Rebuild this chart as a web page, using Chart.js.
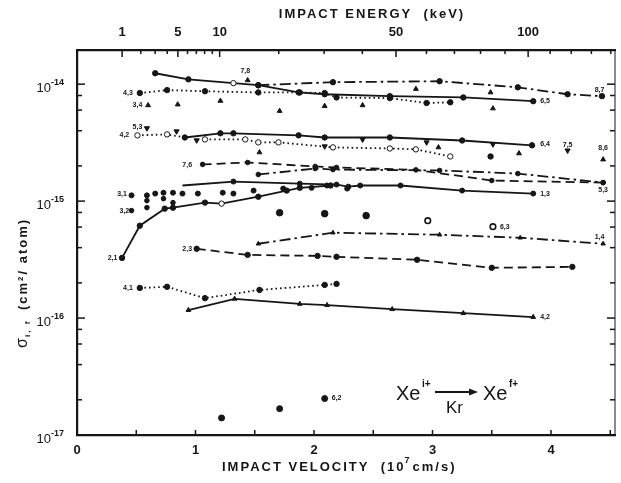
<!DOCTYPE html>
<html>
<head>
<meta charset="utf-8">
<script src="https://cdn.jsdelivr.net/npm/chart.js@4.4.1/dist/chart.umd.min.js"></script>
<style>
  html, body { margin: 0; padding: 0; background: #fff; }
  #wrap { width: 621px; height: 483px; }
</style>
</head>
<body>
<div id="wrap"><canvas id="chart" width="621" height="483"></canvas></div>
<script>
// Xe(i+) on Kr -> Xe(f+) cross sections, velocity in 1e7 cm/s, sigma in cm^2/atom

// axis ticks
const velocityTicks = [0, 0.5, 1, 1.5, 2, 2.5, 3, 3.5, 4, 4.5];
const velocityLabels = [0, 1, 2, 3, 4];
const energyTicks = [1, 2, 3, 4, 5, 6, 7, 8, 9, 10, 20, 30, 40, 50, 60, 70, 80, 90, 100, 110, 120, 130, 140];
const energyLabels = [1, 5, 10, 50, 100];
const decadeTicks = [-17, -16, -15, -14];
const minorMantissas = [2, 4, 6, 8];

// top solid line
const s65V = [0.66, 0.94, 1.32, 1.53, 1.87, 2.09, 2.64, 3.26, 3.85];
const s65S = [1.24e-14, 1.10e-14, 1.02e-14, 9.8e-15, 8.5e-15, 8.2e-15, 7.9e-15, 7.7e-15, 7.15e-15];

// top dash-dot line
const s87V = [1.53, 2.16, 3.06, 3.72, 4.14, 4.43];
const s87S = [9.8e-15, 1.04e-14, 1.06e-14, 9.4e-15, 8.2e-15, 7.9e-15];

// top dotted line
const s43V = [0.53, 0.76, 1.08, 1.53, 1.88, 2.09, 2.19, 2.64, 2.95, 3.15];
const s43S = [8.4e-15, 8.9e-15, 8.7e-15, 8.5e-15, 8.5e-15, 8.4e-15, 7.7e-15, 7.6e-15, 6.9e-15, 7.0e-15];

// triangles without line
const t34V = [0.60, 0.85, 1.21, 1.71, 2.09, 2.41, 3.51];
const t34S = [6.6e-15, 6.7e-15, 7.2e-15, 5.9e-15, 6.5e-15, 6.6e-15, 6.2e-15];
const t78V = [1.44, 2.86, 3.49];
const t78S = [1.08e-14, 9.1e-15, 8.5e-15];

// second group
const s42V = [0.51, 0.76, 0.91, 1.21, 1.32, 1.87, 2.09, 2.64, 3.25, 3.84];
const s42S = [3.65e-15, 3.72e-15, 3.5e-15, 3.8e-15, 3.8e-15, 3.65e-15, 3.5e-15, 3.5e-15, 3.3e-15, 3.0e-15];
const d53V = [0.59, 0.84, 1.01, 2.09, 2.41, 2.95, 3.51, 4.14];
const d53S = [4.2e-15, 3.95e-15, 3.31e-15, 2.94e-15, 3.37e-15, 3.18e-15, 3.06e-15, 2.71e-15];
const o2V = [1.08, 1.42, 1.53, 1.70, 2.16, 2.64, 2.86, 3.15];
const o2S = [3.37e-15, 3.37e-15, 3.18e-15, 3.18e-15, 2.88e-15, 2.82e-15, 2.77e-15, 2.41e-15];
const t2V = [1.54, 3.05, 3.73, 4.44];
const t2S = [2.61e-15, 2.88e-15, 2.56e-15, 2.27e-15];
const p2V = [3.49];
const p2S = [2.41e-15];

// third group
const s76V = [1.06, 1.44, 2.01, 2.19, 2.86, 3.50, 4.44];
const s76S = [2.06e-15, 2.14e-15, 1.98e-15, 1.94e-15, 1.85e-15, 1.50e-15, 1.44e-15];
const sDDV = [1.53, 2.01, 2.16, 3.06, 3.72, 4.44];
const sDDS = [1.69e-15, 1.90e-15, 1.86e-15, 1.83e-15, 1.72e-15, 1.44e-15];

// around 1e-15
const s13V = [0.89, 1.32, 1.88, 2.19, 2.29, 2.39, 2.73, 3.25, 3.85];
const s13S = [1.36e-15, 1.47e-15, 1.41e-15, 1.385e-15, 1.33e-15, 1.36e-15, 1.36e-15, 1.23e-15, 1.16e-15];
const s21V = [0.38, 0.53, 0.74, 0.81, 1.08, 1.22, 1.53, 1.77, 1.88, 2.14];
const s21S = [3.27e-16, 6.16e-16, 8.62e-16, 8.79e-16, 9.71e-16, 9.52e-16, 1.09e-15, 1.23e-15, 1.30e-15, 1.36e-15];
const p31V = [0.46, 0.59, 0.66, 0.73, 0.81, 0.89, 1.02, 1.23, 1.32, 1.49, 1.74, 1.98, 2.11, 2.28];
const p31S = [1.12e-15, 1.12e-15, 1.16e-15, 1.18e-15, 1.18e-15, 1.16e-15, 1.16e-15, 1.18e-15, 1.16e-15, 1.23e-15, 1.28e-15, 1.30e-15, 1.36e-15, 1.28e-15];
const p32V = [0.46, 0.59, 0.59, 0.73, 0.81];
const p32S = [8.3e-16, 8.8e-16, 1.01e-15, 1.05e-15, 9.7e-16];
const bigV = [1.71, 2.09, 2.44];
const bigS = [7.96e-16, 7.81e-16, 7.51e-16];
const ringV = [2.96, 3.51];
const ringS = [6.8e-16, 6.04e-16];

// lower group
const s14V = [1.53, 2.16, 3.06, 3.74, 4.44];
const s14S = [4.32e-16, 5.37e-16, 5.16e-16, 4.86e-16, 4.32e-16];
const s23V = [1.01, 1.44, 2.03, 2.19, 2.87, 3.50, 4.18];
const s23S = [3.91e-16, 3.47e-16, 3.40e-16, 3.34e-16, 3.15e-16, 2.69e-16, 2.74e-16];
const s41V = [0.53, 0.76, 1.08, 1.54, 2.09, 2.19];
const s41S = [1.81e-16, 1.85e-16, 1.48e-16, 1.74e-16, 1.92e-16, 1.96e-16];
const sLowV = [0.94, 1.33, 1.88, 2.11, 2.66, 3.26, 3.85];
const sLowS = [1.17e-16, 1.46e-16, 1.32e-16, 1.29e-16, 1.19e-16, 1.10e-16, 1.02e-16];
const bottomV = [1.22, 1.71, 2.09];
const bottomS = [1.40e-17, 1.68e-17, 2.05e-17];

// curve tags: velocity, sigma, text
const tagV = [0.43, 0.51, 1.42, 0.51, 0.40, 0.93, 0.38, 0.40, 0.30, 0.93, 0.43,
              3.95, 4.41, 3.95, 4.14, 4.44, 4.44, 3.95, 3.61, 4.41, 3.95, 2.19];
const tagS = [8.4e-15, 6.6e-15, 1.29e-14, 4.27e-15, 3.65e-15, 2.02e-15, 1.14e-15, 8.3e-16, 3.27e-16, 3.91e-16, 1.81e-16,
              7.15e-15, 8.9e-15, 3.06e-15, 3.0e-15, 2.82e-15, 1.25e-15, 1.14e-15, 6.04e-16, 4.96e-16, 1.02e-16, 2.05e-17];
const tagText = ['4,3', '3,4', '7,8', '5,3', '4,2', '7,6', '3,1', '3,2', '2,1', '2,3', '4,1',
                 '6,5', '8,7', '6,4', '7,5', '8,6', '5,3', '1,3', '6,3', '1,4', '4,2', '6,2'];

const X_MAX = 4.54;
const Y_MIN = 1e-17;
const Y_MAX = 1.96e-14;
const KEV_PER_V2 = 6.9;   // E(keV) for Xe at v (1e7 cm/s)

const INK = '#161616';
const DOT = [1.6, 3];
const DASH = [9, 5];
const DASHDOT = [11, 4, 2.5, 4];
const FONT = '"Liberation Sans", Arial, sans-serif';

function series(vs, ss, dash, extra) {
  return Object.assign({
    data: vs.map((v, i) => ({ x: v, y: ss[i] })),
    borderColor: INK,
    borderWidth: 1.8,
    borderDash: dash,
    pointRadius: 2.7,
    pointStyle: 'circle',
    pointBackgroundColor: INK,
    pointBorderColor: INK,
    pointBorderWidth: 1,
    fill: false,
    tension: 0
  }, extra || {});
}

function marks(vs, ss, extra) {
  return series(vs, ss, [], Object.assign({ showLine: false }, extra || {}));
}

const datasets = [
  series(s65V, s65S, [], { pointBackgroundColor: c => c.dataIndex === 2 ? '#fff' : INK }),
  series(s87V, s87S, DASHDOT),
  series(s43V, s43S, DOT),
  marks(t34V, t34S, { pointStyle: 'triangle', pointRadius: 2.8 }),
  marks(t78V, t78S, { pointStyle: 'triangle', pointRadius: 2.8 }),
  series(s42V, s42S, [], {
    segment: { borderDash: c => c.p0DataIndex < 2 ? DOT : undefined },
    pointBackgroundColor: c => c.dataIndex < 2 ? '#fff' : INK
  }),
  marks(d53V, d53S, { pointStyle: 'triangle', rotation: 180, pointRadius: 3 }),
  series(o2V, o2S, DOT, { pointBackgroundColor: '#fff' }),
  marks(t2V, t2S, { pointStyle: 'triangle', pointRadius: 2.8 }),
  marks(p2V, p2S),
  series(s76V, s76S, DASH, { pointRadius: 2.3 }),
  series(sDDV, sDDS, DASHDOT, { pointRadius: 2.3 }),
  series(s13V, s13S, [], { pointRadius: c => c.dataIndex === 0 ? 0 : 2.5 }),
  series(s21V, s21S, [], { pointBackgroundColor: c => c.dataIndex === 5 ? '#fff' : INK }),
  marks(p31V, p31S, { pointRadius: 2.5 }),
  marks(p32V, p32S, { pointRadius: 2.3 }),
  marks(bigV, bigS, { pointRadius: 3.3 }),
  marks(ringV, ringS, { pointRadius: 2.8, pointBackgroundColor: '#fff', pointBorderWidth: 1.6 }),
  series(s14V, s14S, DASHDOT, { pointStyle: 'triangle', pointRadius: 2.5 }),
  series(s23V, s23S, DASH),
  series(s41V, s41S, DOT),
  series(sLowV, sLowS, [], { pointStyle: 'triangle', pointRadius: 2.7 }),
  marks(bottomV, bottomS, { pointRadius: 3 })
];

function tickLine(ctx, x1, y1, x2, y2) {
  ctx.beginPath();
  ctx.moveTo(x1, y1);
  ctx.lineTo(x2, y2);
  ctx.stroke();
}

// inward ticks, log labels, titles, curve tags and the reaction text
const frame = {
  id: 'frame',
  afterDraw(chart) {
    const { ctx, chartArea: a, scales } = chart;
    const x = scales.x, y = scales.y;
    ctx.save();
    ctx.strokeStyle = INK;
    ctx.fillStyle = INK;
    ctx.lineWidth = 1.5;

    velocityTicks.forEach(v => {
      const px = x.getPixelForValue(v);
      tickLine(ctx, px, a.bottom, px, a.bottom - 5);
    });
    energyTicks.forEach(e => {
      const px = x.getPixelForValue(Math.sqrt(e / KEV_PER_V2));
      if (px > a.right) return;
      const len = energyLabels.includes(e) ? 7 : 4;
      tickLine(ctx, px, a.top, px, a.top + len);
    });
    decadeTicks.forEach(d => {
      const py = y.getPixelForValue(Math.pow(10, d));
      tickLine(ctx, a.left, py, a.left + 8, py);
      tickLine(ctx, a.right, py, a.right - 8, py);
      minorMantissas.forEach(m => {
        const v = m * Math.pow(10, d);
        if (v > Y_MAX) return;
        const pm = y.getPixelForValue(v);
        tickLine(ctx, a.left, pm, a.left + 5, pm);
        tickLine(ctx, a.right, pm, a.right - 5, pm);
      });
    });
    ctx.lineWidth = 1;
    tickLine(ctx, a.right, a.top, a.right, a.bottom);

    // y tick labels 10^n
    decadeTicks.forEach(d => {
      const py = y.getPixelForValue(Math.pow(10, d));
      ctx.font = '13px ' + FONT;
      ctx.textAlign = 'right';
      ctx.textBaseline = 'alphabetic';
      ctx.fillText('10', 51, py + 8);
      ctx.font = 'bold 9px ' + FONT;
      ctx.textAlign = 'left';
      ctx.fillText('-' + Math.abs(d), 51, py + 1);
    });

    // axis titles
    ctx.font = 'bold 13px ' + FONT;
    ctx.letterSpacing = '2px';
    ctx.textAlign = 'center';
    ctx.textBaseline = 'middle';
    ctx.fillText('IMPACT ENERGY  (keV)', 372, 14);
    ctx.textAlign = 'left';
    const bx = 222, by = 467;
    const t1 = 'IMPACT VELOCITY  (10';
    ctx.fillText(t1, bx, by);
    let w = ctx.measureText(t1).width;
    ctx.font = 'bold 9px ' + FONT;
    ctx.fillText('7', bx + w - 1, by - 6);
    ctx.font = 'bold 13px ' + FONT;
    ctx.fillText('cm/s)', bx + w + 7, by);

    ctx.save();
    ctx.translate(23, 348);
    ctx.rotate(-Math.PI / 2);
    ctx.letterSpacing = '2px';
    ctx.font = '16px ' + FONT;
    ctx.textAlign = 'left';
    ctx.fillText('\u03c3', 0, 0);
    ctx.font = 'bold 8px ' + FONT;
    ctx.fillText('i, f', 11, 5);
    ctx.font = 'bold 13px ' + FONT;
    ctx.fillText('(cm\u00b2/ atom)', 38, 0);
    ctx.restore();

    // curve tags
    ctx.letterSpacing = '0px';
    ctx.font = 'bold 7px ' + FONT;
    ctx.textAlign = 'center';
    ctx.textBaseline = 'middle';
    tagText.forEach((t, i) => {
      ctx.fillText(t, x.getPixelForValue(tagV[i]), y.getPixelForValue(tagS[i]));
    });

    // reaction label
    ctx.textBaseline = 'alphabetic';
    ctx.textAlign = 'left';
    ctx.font = '20px ' + FONT;
    ctx.fillText('Xe', 396, 400);
    ctx.font = 'bold 10px ' + FONT;
    ctx.fillText('i+', 422, 387);
    ctx.lineWidth = 1.8;
    tickLine(ctx, 435, 392, 472, 392);
    ctx.beginPath();
    ctx.moveTo(478, 392);
    ctx.lineTo(469, 388.5);
    ctx.lineTo(469, 395.5);
    ctx.closePath();
    ctx.fill();
    ctx.font = '17px ' + FONT;
    ctx.fillText('Kr', 446, 413);
    ctx.font = '20px ' + FONT;
    ctx.fillText('Xe', 483, 400);
    ctx.font = 'bold 10px ' + FONT;
    ctx.fillText('f+', 509, 387);
    ctx.restore();
  }
};

new Chart(document.getElementById('chart'), {
  type: 'line',
  data: { datasets },
  options: {
    responsive: false,
    animation: false,
    layout: { padding: { left: 0, right: 6, top: 0, bottom: 0 } },
    plugins: { legend: { display: false }, tooltip: { enabled: false } },
    scales: {
      x: {
        type: 'linear',
        position: 'bottom',
        min: 0,
        max: X_MAX,
        afterBuildTicks: s => { s.ticks = velocityTicks.map(v => ({ value: v })); },
        afterFit: s => { s.height = 48; },
        grid: { display: false, drawTicks: false },
        border: { display: true, color: INK, width: 2.2 },
        ticks: {
          autoSkip: false,
          maxRotation: 0,
          padding: 8,
          color: INK,
          font: { family: FONT, size: 13, weight: 'bold' },
          callback: v => velocityLabels.includes(v) ? String(v) : ''
        }
      },
      xTop: {
        type: 'linear',
        position: 'top',
        min: 0,
        max: X_MAX,
        afterBuildTicks: s => {
          s.ticks = energyTicks.map(e => ({ value: Math.sqrt(e / KEV_PER_V2) }))
            .filter(t => t.value <= X_MAX);
        },
        afterFit: s => { s.height = 50; },
        grid: { display: false, drawTicks: false },
        border: { display: true, color: INK, width: 2.2 },
        ticks: {
          autoSkip: false,
          maxRotation: 0,
          padding: 10,
          color: INK,
          font: { family: FONT, size: 13, weight: 'bold' },
          callback: (v, i) => energyLabels.includes(energyTicks[i]) ? String(energyTicks[i]) : ''
        }
      },
      y: {
        type: 'logarithmic',
        min: Y_MIN,
        max: Y_MAX,
        afterFit: s => { s.width = 77; },
        grid: { display: false, drawTicks: false },
        border: { display: true, color: INK, width: 2.2 },
        ticks: { display: false }
      }
    }
  },
  plugins: [frame]
});
</script>
</body>
</html>
